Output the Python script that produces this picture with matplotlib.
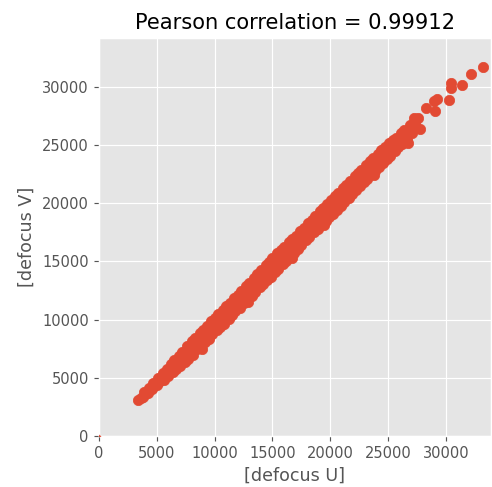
import matplotlib
matplotlib.use("Agg")
import matplotlib.pyplot as plt

plt.style.use("ggplot")

# defocus values (U, V pairs)
defocus_u = [
    -300,
    3400, 3600, 3800, 3900, 4200, 4300, 4600, 4700, 5000, 5100,
    5300, 5500, 5600, 5900, 6000, 6200, 6400, 6500, 6700, 6900,
    7000, 7200, 7400, 7600, 7700, 8000, 8100, 8300, 8500, 8700,
    8800, 9000, 9200, 9300, 9500, 9700, 9800, 10000, 10200, 10300,
    10500, 10700, 10800, 11000, 11200, 11300, 11500, 11700, 11800, 12000,
    12200, 12300, 12500, 12700, 12800, 13000, 13200, 13400, 13500, 13700,
    13900, 14000, 14200, 14400, 14500, 14700, 14900, 15000, 15200, 15400,
    15500, 15700, 15900, 16000, 16200, 16400, 16500, 16700, 16900, 17000,
    17200, 17400, 17500, 17700, 17900, 18100, 18200, 18400, 18600, 18700,
    18900, 19100, 19200, 19400, 19600, 19700, 19900, 20100, 20200, 20400,
    20600, 20700, 20900, 21100, 21200, 21400, 21600, 21700, 21900, 22100,
    22200, 22400, 22600, 22700, 22900, 23100, 23200, 23400, 23600, 23700,
    23900, 24100, 24200, 24400, 24600, 24700, 24900, 25100, 25200, 25400,
    25600, 25700, 25900, 26100, 26200, 26400, 26600, 26700, 26900, 27100,
    27300, 27600,
    4000, 4500, 5000, 5500, 6000, 6500, 7000, 7500, 8000, 8500,
    9000, 9500, 10000, 10500, 11000, 11500, 12000, 12500, 13000, 13500,
    14000, 14500, 15000, 15500, 16000, 16500, 17000, 17500, 18000, 18500,
    19000, 19500, 20000, 20500, 21000, 21500, 22000, 22500, 23000, 23500,
    24000, 24500, 25000, 25500, 26000, 26500, 27000,
    8900, 12900, 16700, 19500, 23800,
    27200, 27800, 28300, 29000, 29100, 29200, 30300, 30400, 30400, 31400,
    32200, 33200,
]
defocus_v = [
    -300,
    3100, 3250, 3350, 3750, 3700, 4150, 4000, 4550, 4350, 4950,
    4700, 5400, 4850, 5800, 5150, 6150, 5500, 6500, 5750, 6900,
    6050, 7250, 6350, 7700, 6600, 8150, 7000, 8450, 7450, 8850,
    7700, 9150, 8100, 9450, 8350, 9850, 8800, 10150, 9100, 10450,
    9400, 10850, 9650, 11150, 10050, 11450, 10400, 11850, 10700, 12150,
    11000, 12450, 11400, 12850, 11650, 13150, 12000, 13600, 12400, 13900,
    12800, 14250, 13050, 14700, 13400, 14950, 13700, 15300, 14100, 15700,
    14350, 15950, 14800, 16250, 15000, 16650, 15400, 16900, 15750, 17200,
    16100, 17600, 16400, 17900, 16800, 18300, 17100, 18600, 17500, 18900,
    17750, 19300, 18100, 19600, 18500, 19900, 18800, 20300, 19100, 20600,
    19450, 20900, 19800, 21300, 20100, 21600, 20450, 21900, 20800, 22300,
    21100, 22600, 21500, 22900, 21800, 23300, 22100, 23600, 22500, 23900,
    22800, 24250, 23100, 24550, 23500, 24800, 23800, 25150, 24100, 25400,
    24500, 25600, 24800, 26000, 25100, 26300, 25400, 25200, 26700, 26000,
    26900, 27300,
    3650, 4100, 4550, 5000, 5500, 6000, 6600, 7100, 7550, 8050,
    8550, 9050, 9550, 10050, 10550, 11050, 11550, 12050, 12550, 13050,
    13550, 14050, 14550, 15050, 15550, 16050, 16550, 17050, 17550, 18050,
    18550, 19050, 19550, 20050, 20550, 21050, 21550, 22050, 22550, 23050,
    23550, 24050, 24550, 24950, 25450, 25950, 26400,
    7500, 11500, 15300, 18100, 22400,
    27300, 26400, 28150, 28750, 27900, 29000, 28900, 30300, 29900, 30200,
    31100, 31700,
]
title = "Pearson correlation = 0.99912"

dpi = 105
fig = plt.figure(figsize=(492 / dpi, 487 / dpi), dpi=dpi)
ax = fig.add_axes([99 / 492, 51 / 487, 392 / 492, 398 / 487])

ax.scatter(defocus_u, defocus_v, s=50, color="#E24A33", zorder=3)
ax.set_xlim(0, 33900)
ax.set_ylim(0, 34200)
ax.set_xticks([0, 5000, 10000, 15000, 20000, 25000, 30000])
ax.set_yticks([0, 5000, 10000, 15000, 20000, 25000, 30000])
ax.set_xlabel("[defocus U]")
ax.set_ylabel("[defocus V]")
ax.set_title(title, color="black")

fig.savefig("out.png", dpi=dpi)
